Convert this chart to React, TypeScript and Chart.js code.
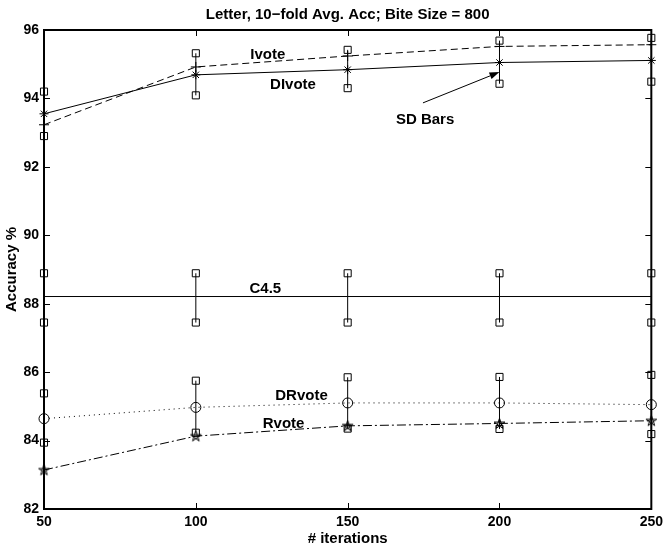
import React, { useEffect, useRef } from "react";
import { Chart, registerables } from "chart.js";

Chart.register(...registerables);

// ---- data ----
const iterations = [50, 100, 150, 200, 250];
const ivote = [93.23, 94.92, 95.24, 95.52, 95.57];
const divote = [93.55, 94.69, 94.84, 95.05, 95.11];
const voteSdUpper = [94.2, 95.32, 95.42, 95.69, 95.77];
const voteSdLower = [92.9, 94.09, 94.3, 94.43, 94.49];
const c45 = [88.21, 88.21, 88.21, 88.21, 88.21];
const c45SdUpper = [88.89, 88.89, 88.89, 88.89, 88.89];
const c45SdLower = [87.45, 87.45, 87.45, 87.45, 87.45];
const drvote = [84.64, 84.97, 85.1, 85.1, 85.05];
const drvoteSdUpper = [85.38, 85.75, 85.85, 85.86, 85.92];
const drvoteSdLower = [83.94, 84.23, 84.35, 84.34, 84.19];
const rvote = [83.14, 84.13, 84.43, 84.5, 84.58];

const xTickValues = [50, 100, 150, 200, 250];
const yTickValues = [82, 84, 86, 88, 90, 92, 94, 96];

const titleText = "Letter, 10\u2212fold Avg. Acc; Bite Size = 800";
const xTitle = "# iterations";
const yTitle = "Accuracy %";

// annotations in data coordinates
const notes = [
  { text: "Ivote", x: 123.7, y: 95.27 },
  { text: "DIvote", x: 132, y: 94.41 },
  { text: "SD Bars", x: 175.5, y: 93.38 },
  { text: "C4.5", x: 122.9, y: 88.43 },
  { text: "DRvote", x: 134.8, y: 85.3 },
  { text: "Rvote", x: 128.9, y: 84.48 },
];
const arrowFrom = { x: 174.8, y: 93.87 };
const arrowTo = { x: 200, y: 94.77 };

const FONT = "'Liberation Sans', Arial, Helvetica, sans-serif";

function pts(ys: number[]) {
  return iterations.map((x, i) => ({ x, y: ys[i] }));
}

function makePentagram(): HTMLCanvasElement {
  const c = document.createElement("canvas");
  c.width = 13;
  c.height = 13;
  const ctx = c.getContext("2d")!;
  const cx = 6.5, cy = 6.8, R = 5.6;
  ctx.beginPath();
  for (let k = 0; k < 5; k++) {
    const a = -Math.PI / 2 + (k * 4 * Math.PI) / 5;
    const px = cx + R * Math.cos(a);
    const py = cy + R * Math.sin(a);
    if (k === 0) ctx.moveTo(px, py);
    else ctx.lineTo(px, py);
  }
  ctx.closePath();
  ctx.strokeStyle = "#000";
  ctx.lineWidth = 1;
  ctx.stroke();
  return c;
}

function errorBarSets(upper: number[], lower: number[]) {
  return iterations.map((x, i) => ({
    label: "sd",
    data: [
      { x, y: lower[i] },
      { x, y: upper[i] },
    ],
    borderColor: "#000",
    borderWidth: 1,
    pointStyle: "rect",
    pointRadius: 5,
    pointBorderWidth: 1,
    pointBackgroundColor: "rgba(0,0,0,0)",
    pointBorderColor: "#000",
    clip: false,
  }));
}

const framePlugin = {
  id: "frame",
  afterDraw(chart: any) {
    const { ctx, chartArea, scales } = chart;
    const { left, right, top, bottom } = chartArea;
    const xs = scales.x;
    const ys = scales.y;
    ctx.save();
    ctx.strokeStyle = "#000";
    ctx.lineWidth = 1;
    const tl = 6;
    xTickValues.forEach((v) => {
      const px = Math.round(xs.getPixelForValue(v)) + 0.5;
      ctx.beginPath();
      ctx.moveTo(px, bottom);
      ctx.lineTo(px, bottom - tl);
      ctx.moveTo(px, top);
      ctx.lineTo(px, top + tl);
      ctx.stroke();
    });
    yTickValues.forEach((v) => {
      const py = Math.round(ys.getPixelForValue(v)) + 0.5;
      ctx.beginPath();
      ctx.moveTo(left, py);
      ctx.lineTo(left + tl, py);
      ctx.moveTo(right, py);
      ctx.lineTo(right - tl, py);
      ctx.stroke();
    });
    ctx.lineWidth = 2;
    ctx.strokeRect(left, top, right - left, bottom - top);

    // texts
    ctx.fillStyle = "#000";
    ctx.textAlign = "center";
    ctx.textBaseline = "middle";
    ctx.font = `bold 15px ${FONT}`;
    ctx.fillText(titleText, (left + right) / 2, 15);
    ctx.fillText(xTitle, (left + right) / 2, 539);
    ctx.save();
    ctx.translate(12, (top + bottom) / 2);
    ctx.rotate(-Math.PI / 2);
    ctx.fillText(yTitle, 0, 0);
    ctx.restore();

    ctx.font = `bold 15px ${FONT}`;
    notes.forEach((n) => {
      ctx.fillText(n.text, xs.getPixelForValue(n.x), ys.getPixelForValue(n.y));
    });

    // arrow
    const x1 = xs.getPixelForValue(arrowFrom.x);
    const y1 = ys.getPixelForValue(arrowFrom.y);
    const x2 = xs.getPixelForValue(arrowTo.x);
    const y2 = ys.getPixelForValue(arrowTo.y);
    const ang = Math.atan2(y2 - y1, x2 - x1);
    const hl = 10, hw = 3.5;
    const bx = x2 - hl * Math.cos(ang);
    const by = y2 - hl * Math.sin(ang);
    ctx.lineWidth = 1;
    ctx.beginPath();
    ctx.moveTo(x1, y1);
    ctx.lineTo(bx, by);
    ctx.stroke();
    ctx.beginPath();
    ctx.moveTo(x2, y2);
    ctx.lineTo(bx + hw * Math.sin(ang), by - hw * Math.cos(ang));
    ctx.lineTo(bx - hw * Math.sin(ang), by + hw * Math.cos(ang));
    ctx.closePath();
    ctx.fill();
    ctx.restore();
  },
};

export default function App() {
  const ref = useRef<HTMLCanvasElement | null>(null);
  useEffect(() => {
    if (!ref.current) return;
    document.body.style.margin = "0";
    const pent = makePentagram();
    const base = {
      borderColor: "#000",
      borderWidth: 1,
      pointBorderColor: "#000",
      pointBackgroundColor: "rgba(0,0,0,0)",
      pointBorderWidth: 1,
      clip: false,
      tension: 0,
    };
    const chart = new Chart(ref.current, {
      type: "line",
      data: {
        datasets: [
          { ...base, label: "Ivote", data: pts(ivote), borderDash: [7, 4], pointStyle: "cross", pointRadius: 5 },
          { ...base, label: "DIvote", data: pts(divote), pointStyle: "star", pointRadius: 4.5 },
          ...errorBarSets(voteSdUpper, voteSdLower),
          { ...base, label: "C4.5", data: pts(c45), pointRadius: 0 },
          ...errorBarSets(c45SdUpper, c45SdLower),
          { ...base, label: "DRvote", data: pts(drvote), borderDash: [1, 4], pointStyle: "circle", pointRadius: 5 },
          ...errorBarSets(drvoteSdUpper, drvoteSdLower),
          { ...base, label: "Rvote", data: pts(rvote), borderDash: [9, 3, 2, 3], pointStyle: pent as any, pointRadius: 6 },
        ] as any,
      },
      options: {
        responsive: false,
        animation: false,
        devicePixelRatio: 1,
        layout: { padding: { top: 30, right: 12, left: 0, bottom: 0 } },
        plugins: {
          legend: { display: false },
          tooltip: { enabled: false },
          title: { display: false },
        },
        scales: {
          x: {
            type: "linear",
            min: 50,
            max: 250,
            grid: { display: false, drawTicks: false },
            border: { display: false },
            afterFit: (s: any) => {
              s.height = 40;
            },
            afterBuildTicks: (s: any) => {
              s.ticks = xTickValues.map((v) => ({ value: v }));
            },
            ticks: {
              color: "#000",
              padding: 5,
              maxRotation: 0,
              font: { family: FONT, size: 14, weight: "bold" },
            },
          },
          y: {
            type: "linear",
            min: 82,
            max: 96,
            grid: { display: false, drawTicks: false },
            border: { display: false },
            afterFit: (s: any) => {
              s.width = 44;
            },
            afterBuildTicks: (s: any) => {
              s.ticks = yTickValues.map((v) => ({ value: v }));
            },
            ticks: {
              color: "#000",
              padding: 5,
              font: { family: FONT, size: 14, weight: "bold" },
            },
          },
        },
      } as any,
      plugins: [framePlugin],
    });
    return () => chart.destroy();
  }, []);
  return (
    <div style={{ position: "absolute", left: 0, top: 0, width: 668, height: 549, background: "#fff" }}>
      <canvas ref={ref} width={668} height={549} />
    </div>
  );
}
